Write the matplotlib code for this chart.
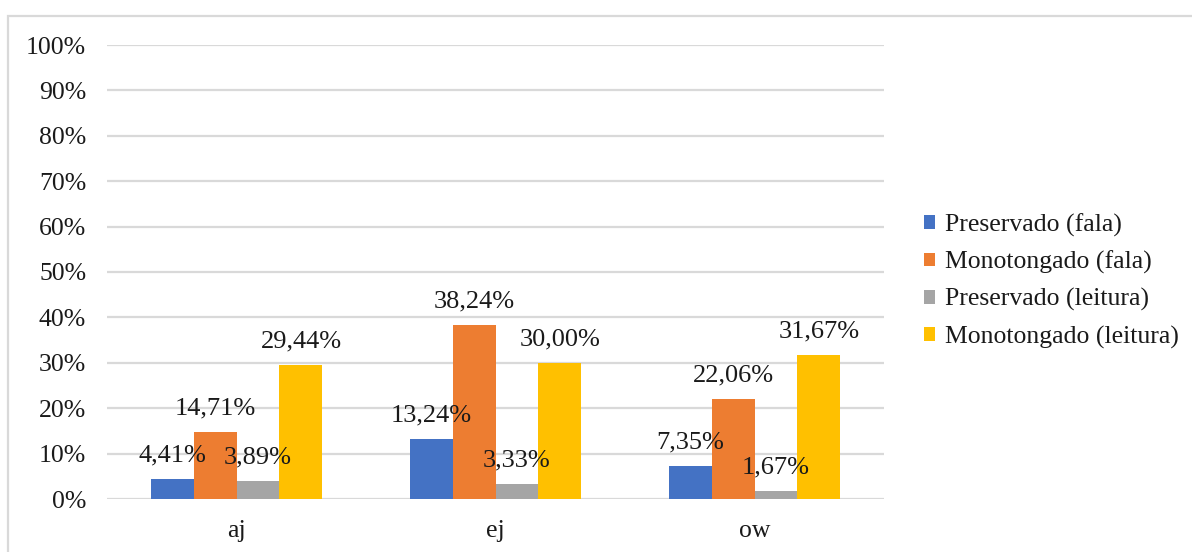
import matplotlib
matplotlib.use("Agg")
import matplotlib.pyplot as plt
from matplotlib.patches import Patch, Rectangle
import numpy as np

plt.rcParams['font.family'] = ['Liberation Serif', 'DejaVu Serif']

categories = ["aj", "ej", "ow"]
series_names = ["Preservado (fala)", "Monotongado (fala)",
                "Preservado (leitura)", "Monotongado (leitura)"]
preservado_fala = [4.41, 13.24, 7.35]
monotongado_fala = [14.71, 38.24, 22.06]
preservado_leitura = [3.89, 3.33, 1.67]
monotongado_leitura = [29.44, 30.00, 31.67]
series_values = [preservado_fala, monotongado_fala,
                 preservado_leitura, monotongado_leitura]
colors = ["#4472C4", "#ED7D31", "#A5A5A5", "#FFC000"]
y_ticks = list(range(0, 101, 10))

W, H = 1192, 552
fig = plt.figure(figsize=(W / 100, H / 100), dpi=100)
ax = fig.add_axes([107 / W, 1 - 499 / H, (884 - 107) / W, (499 - 45) / H])

x = np.arange(len(categories))
bw = 0.166
for i, (vals, col) in enumerate(zip(series_values, colors)):
    pos = x + (i - 1.5) * bw
    ax.bar(pos, vals, width=bw, color=col, zorder=2)
    for px, v in zip(pos, vals):
        ax.annotate(f"{v:.2f}%".replace(".", ","), (px, v),
                    xytext=(0, 17), textcoords="offset points",
                    ha="center", va="center", fontsize=19, color="#1a1a1a",
                    zorder=3)

ax.set_xlim(-0.5, len(categories) - 0.5)
ax.set_ylim(0, 100)
ax.set_yticks(y_ticks)
ax.set_yticklabels([f"{t}%" for t in y_ticks], fontsize=18.5, color="#1a1a1a")
ax.set_xticks(x)
ax.set_xticklabels(categories, fontsize=18.5, color="#1a1a1a")
ax.tick_params(axis="both", length=0)
ax.tick_params(axis="y", pad=15)
ax.tick_params(axis="x", pad=15)
ax.yaxis.grid(True, color="#D9D9D9", linewidth=1.6, zorder=0)
ax.set_axisbelow(True)
for s in ax.spines.values():
    s.set_visible(False)

handles = [Patch(facecolor=c, edgecolor="none") for c in colors]
fig.legend(handles, series_names, loc="center left",
           bbox_to_anchor=(924 / W, 1 - 281 / H), frameon=False,
           fontsize=18.5, handlelength=0.42, handleheight=0.42,
           handletextpad=0.4, labelspacing=0.55, borderpad=0,
           borderaxespad=0, labelcolor="#1a1a1a")

# outer chart border
fig.patches.append(Rectangle((8 / W, -0.1), 1.2, 1.1 - 16 / H,
                             transform=fig.transFigure, fill=False,
                             edgecolor="#D9D9D9", linewidth=1.6))

fig.savefig("out.png", dpi=100, facecolor="white")
